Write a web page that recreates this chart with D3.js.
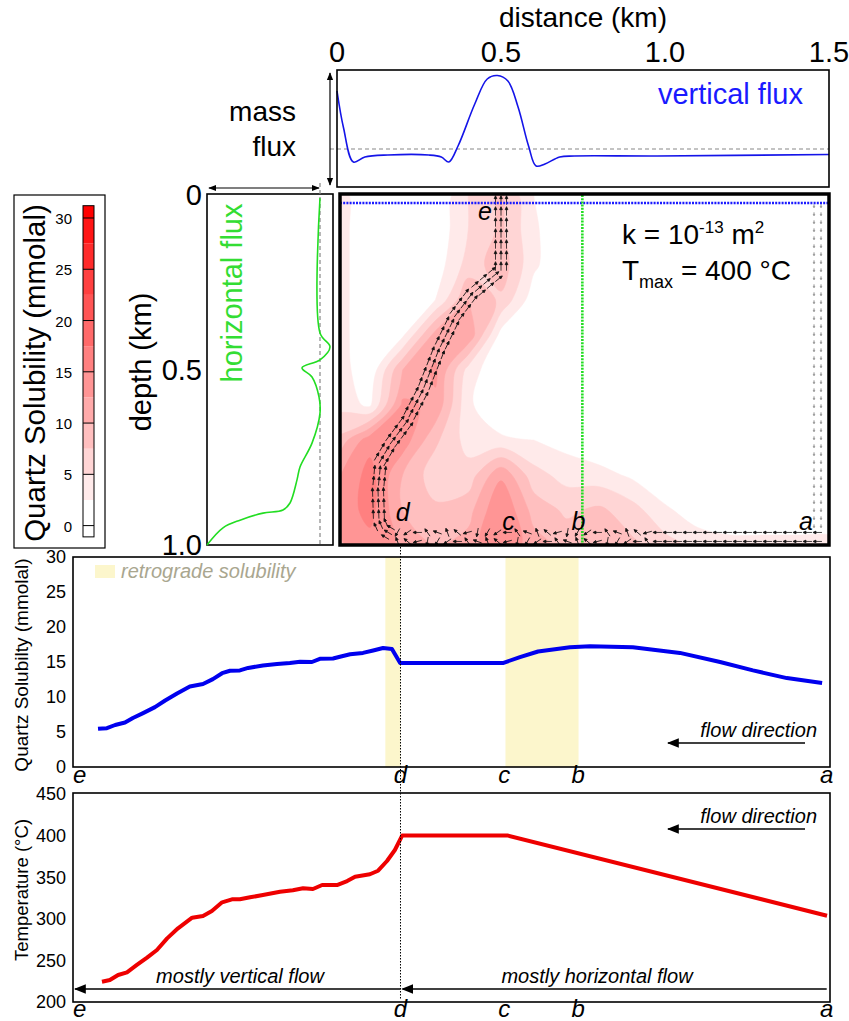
<!DOCTYPE html>
<html>
<head>
<meta charset="utf-8">
<script src="https://cdn.jsdelivr.net/npm/d3@7"></script>
<style>
  body { margin: 0; background: #fff; }
  svg { display: block; font-family: "Liberation Sans", Arial, sans-serif; }
</style>
</head>
<body>
<div id="chart"></div>
<script>
// ---------- data ----------
// vertical mass flux through the top boundary (arbitrary units, 0 = dashed line)
const vfDist = [0, 0.02, 0.05, 0.085, 0.155, 0.28, 0.318, 0.341, 0.369, 0.42, 0.458, 0.489, 0.521, 0.552, 0.584, 0.607, 0.634, 0.679, 0.723, 0.976, 1.5];
const vfFlux = [58, 21, -13, -8, -6, -6, -8, -13, 3, 45, 70, 73.5, 68, 42, 3, -17, -15, -8, -7, -7, -5.5];

// horizontal mass flux through the left boundary
const hfDepth = [0.009, 0.394, 0.434, 0.471, 0.494, 0.52, 0.577, 0.623, 0.709, 0.777, 0.814, 0.88, 0.9, 0.909, 0.929, 0.951, 1.0];
const hfFlux = [0, 0, 10, 0, -18, -8, -1, 0, -8, -20, -23, -30, -37, -57, -80, -97, -113];

// quartz solubility field (mmolal), rows = depth, columns = distance
const gridDist = [0, 0.1, 0.2, 0.3, 0.4, 0.5, 0.6, 0.7, 0.8, 0.9, 1.0, 1.1, 1.2, 1.3, 1.4, 1.5];
const gridDepth = [0, 0.1, 0.2, 0.3, 0.4, 0.5, 0.6, 0.7, 0.8, 0.9, 1.0];
const solGrid = [
  [4, 0, 0, 0, 5, 8, 2.5, 0, 0, 0, 0, 0, 0, 0, 0, 0],
  [4, 0, 0, 0.5, 5, 8, 3, 0, 0, 0, 0, 0, 0, 0, 0, 0],
  [4, 0, 0, 1, 6, 9, 3, 0, 0, 0, 0, 0, 0, 0, 0, 0],
  [4, 0, 0, 2.5, 10, 7, 1, 0, 0, 0, 0, 0, 0, 0, 0, 0],
  [4, 0, 2, 11, 12, 1.5, 0, 0, 0, 0, 0, 0, 0, 0, 0, 0],
  [4, 0.5, 10, 13, 4, 0, 0, 0, 0, 0, 0, 0, 0, 0, 0, 0],
  [4, 2, 13, 12, 3, 0, 0, 0, 0, 0, 0, 0, 0, 0, 0, 0],
  [8, 14, 14, 8, 4, 3, 2.5, 1.5, 0, 0, 0, 0, 0, 0, 0, 0],
  [12, 16, 10, 6, 6, 12, 6, 4, 3.5, 2, 0, 0, 0, 0, 0, 0],
  [13, 16, 10, 8, 9, 15, 9, 7, 8, 6, 3, 1, 0, 0, 0, 0],
  [12, 14, 12, 10, 11, 15, 11, 9, 10, 8, 6, 4, 3.5, 3.5, 3.5, 3.5]
];

// colour bar
const cbSteps = [-1.1, 0, 2.5, 5, 7.5, 10, 12.5, 15, 17.5, 20, 22.5, 25, 27.5, 30, 31.2];
const cbTicks = [0, 5, 10, 15, 20, 25, 30];

// flow paths (distance km, depth km): along the base a -> d, then up the channel d -> e
const basePath = [[1.48, 0.977], [0.9, 0.977], [0.5, 0.977], [0.17, 0.977]];
const channelPath = [[0.17, 0.972], [0.14, 0.955], [0.128, 0.93], [0.125, 0.843], [0.134, 0.757],
  [0.164, 0.709], [0.21, 0.651], [0.262, 0.557], [0.31, 0.443], [0.362, 0.343], [0.408, 0.286],
  [0.462, 0.243], [0.5, 0.214], [0.5, 0.0]];
const edgePath = [[1.465, 0.02], [1.465, 0.965]];

// labels of the section points in the flow field
const pointNames = ["e", "d", "c", "b", "a"];
const pointDist = [0.451, 0.2, 0.523, 0.736, 1.43];
const pointDepth = [0.071, 0.93, 0.957, 0.957, 0.957];

// profile along the flow path e - d - c - b - a
const profileTicks = [-0.78, 0.195, 0.51, 0.735, 1.49];
const retroRanges = [[0.149, 0.195], [0.514, 0.736]];
const solPos = [-0.724, -0.697, -0.672, -0.642, -0.618, -0.587, -0.551, -0.52, -0.484, -0.445, -0.405, -0.375, -0.347, -0.323, -0.293, -0.268, -0.223, -0.18, -0.141, -0.11, -0.074, -0.05, -0.01, 0.011, 0.042, 0.081, 0.112, 0.142, 0.169, 0.194, 0.285, 0.506, 0.558, 0.613, 0.71, 0.771, 0.901, 1.044, 1.166, 1.266, 1.369, 1.476];
const solVal = [5.45, 5.55, 6.0, 6.35, 7.0, 7.7, 8.55, 9.5, 10.5, 11.5, 11.85, 12.55, 13.4, 13.75, 13.8, 14.15, 14.5, 14.7, 14.85, 15.05, 15.0, 15.45, 15.5, 15.75, 16.1, 16.3, 16.65, 17.0, 16.85, 14.85, 14.85, 14.85, 15.7, 16.5, 17.1, 17.25, 17.1, 16.3, 15.0, 13.8, 12.7, 12.0];
const tempPos = [-0.712, -0.688, -0.663, -0.636, -0.606, -0.575, -0.545, -0.514, -0.481, -0.438, -0.405, -0.378, -0.347, -0.317, -0.293, -0.262, -0.223, -0.171, -0.132, -0.101, -0.071, -0.043, 0.002, 0.033, 0.057, 0.102, 0.127, 0.154, 0.178, 0.2, 0.522, 1.491];
const tempVal = [224.4, 226.4, 232.5, 235.7, 244.5, 253.3, 262.5, 276.5, 288.6, 301.3, 303.4, 309.4, 319.8, 323.4, 323.4, 325.8, 328.6, 332.6, 334.3, 336.7, 335.8, 340.6, 340.6, 345.4, 350.6, 353.5, 357.8, 369.5, 382.7, 400, 400, 303.7];
const solTicks = [0, 5, 10, 15, 20, 25, 30];
const tempTicks = [200, 250, 300, 350, 400, 450];

// ---------- drawing ----------
const W = 849, H = 1021;
const svg = d3.select("#chart").append("svg").attr("width", W).attr("height", H);

const defs = svg.append("defs");
function headMarker(id, size) {
  defs.append("marker").attr("id", id).attr("viewBox", "0 0 10 10").attr("refX", 9).attr("refY", 5)
    .attr("markerWidth", size).attr("markerHeight", size).attr("markerUnits", "userSpaceOnUse")
    .attr("orient", "auto-start-reverse")
    .append("path").attr("d", "M0,1L10,5L0,9Z").attr("fill", "#000");
}
headMarker("head-small", 8);
headMarker("head-big", 12);

const xDist = d3.scaleLinear().domain([0, 1.5]).range([337, 829]);
const yDepth = d3.scaleLinear().domain([0, 1]).range([195, 545]);
const solColor = v => d3.interpolateRgb("#ffffff", "#ff0000")(Math.max(0, Math.min(1, v / 30)));

// ---- top axis ----
svg.append("text").attr("x", 583).attr("y", 27).attr("text-anchor", "middle")
  .attr("font-size", 28).text("distance (km)");
svg.append("g").selectAll("text").data([0, 0.5, 1.0, 1.5]).enter().append("text")
  .attr("x", d => xDist(d)).attr("y", 62).attr("text-anchor", "middle").attr("font-size", 29)
  .text(d => d === 0 ? "0" : d3.format(".1f")(d));

// ---- vertical flux panel ----
const yFlux = d3.scaleLinear().domain([-38, 79]).range([187, 70]);
svg.append("line").attr("x1", 330).attr("x2", 829).attr("y1", yFlux(0)).attr("y2", yFlux(0))
  .attr("stroke", "#888").attr("stroke-width", 1.2).attr("stroke-dasharray", "4,3");
svg.append("path").datum(vfDist.map((d, i) => [d, vfFlux[i]]))
  .attr("fill", "none").attr("stroke", "#1414e8").attr("stroke-width", 1.6)
  .attr("d", d3.line().x(d => xDist(d[0])).y(d => yFlux(d[1])).curve(d3.curveCatmullRom));
svg.append("rect").attr("x", 337).attr("y", 70).attr("width", 492).attr("height", 117)
  .attr("fill", "none").attr("stroke", "#000").attr("stroke-width", 1.6);
svg.append("text").attr("x", 803).attr("y", 104).attr("text-anchor", "end").attr("font-size", 29)
  .attr("fill", "#1a1aff").text("vertical flux");
svg.append("text").attr("x", 296).attr("y", 121).attr("text-anchor", "end").attr("font-size", 28).text("mass");
svg.append("text").attr("x", 296).attr("y", 156).attr("text-anchor", "end").attr("font-size", 28).text("flux");
svg.append("line").attr("x1", 330).attr("x2", 330).attr("y1", 73).attr("y2", 185)
  .attr("stroke", "#000").attr("stroke-width", 1.2)
  .attr("marker-start", "url(#head-small)").attr("marker-end", "url(#head-small)");

// ---- colour bar legend ----
svg.append("rect").attr("x", 14).attr("y", 195).attr("width", 91).attr("height", 353)
  .attr("fill", "#fff").attr("stroke", "#000").attr("stroke-width", 1.2);
const cbY = d3.scaleLinear().domain([0, 30]).range([525.6, 218]);
const cbCells = cbSteps.slice(0, -1).map((v, i) => [v, cbSteps[i + 1]]);
svg.append("g").selectAll("rect").data(cbCells).enter().append("rect")
  .attr("x", 83).attr("width", 11)
  .attr("y", d => cbY(d[1])).attr("height", d => cbY(d[0]) - cbY(d[1]))
  .attr("fill", d => d[0] < 0 ? "#fff" : solColor(d[0]));
svg.append("g").selectAll("line").data(cbTicks).enter().append("line")
  .attr("x1", 83).attr("x2", 94).attr("y1", d => cbY(d)).attr("y2", d => cbY(d))
  .attr("stroke", "#000").attr("stroke-width", 1);
svg.append("rect").attr("x", 83).attr("width", 11).attr("y", cbY(31.2)).attr("height", cbY(-1.1) - cbY(31.2))
  .attr("fill", "none").attr("stroke", "#000").attr("stroke-width", 1);
svg.append("g").selectAll("text").data(cbTicks).enter().append("text")
  .attr("x", 72).attr("y", d => cbY(d) + 2).attr("text-anchor", "end").attr("dominant-baseline", "middle")
  .attr("font-size", 15).text(d => d);
svg.append("text").attr("transform", "translate(45,373) rotate(-90)").attr("text-anchor", "middle")
  .attr("font-size", 29.5).text("Quartz Solubility (mmolal)");

// ---- horizontal flux panel ----
const xHf = d3.scaleLinear().domain([-113, 13]).range([207, 333]);
svg.append("rect").attr("x", 207).attr("y", 194).attr("width", 126).attr("height", 351)
  .attr("fill", "none").attr("stroke", "#000").attr("stroke-width", 1.6);
svg.append("line").attr("x1", xHf(0)).attr("x2", xHf(0)).attr("y1", 183).attr("y2", 545)
  .attr("stroke", "#888").attr("stroke-width", 1.2).attr("stroke-dasharray", "4,3");
svg.append("path").datum(hfDepth.map((d, i) => [hfFlux[i], d]))
  .attr("fill", "none").attr("stroke", "#22dd22").attr("stroke-width", 1.6)
  .attr("d", d3.line().x(d => xHf(d[0])).y(d => yDepth(d[1])).curve(d3.curveCatmullRom));
svg.append("line").attr("x1", 209).attr("x2", xHf(0) - 1).attr("y1", 188).attr("y2", 188)
  .attr("stroke", "#000").attr("stroke-width", 1.2)
  .attr("marker-start", "url(#head-small)").attr("marker-end", "url(#head-small)");
svg.append("text").attr("transform", "translate(242,293) rotate(-90)").attr("text-anchor", "middle")
  .attr("font-size", 29).attr("fill", "#33dd33").text("horizontal flux");
svg.append("g").selectAll("text").data([0, 0.5, 1.0]).enter().append("text")
  .attr("x", 202).attr("y", d => yDepth(d)).attr("dy", "0.36em").attr("text-anchor", "end")
  .attr("font-size", 29).text(d => d === 0 ? "0" : d3.format(".1f")(d));
svg.append("text").attr("transform", "translate(151,362) rotate(-90)").attr("text-anchor", "middle")
  .attr("font-size", 29).text("depth (km)");

// ---- solubility field ----
defs.append("clipPath").attr("id", "field-clip").append("rect")
  .attr("x", 340).attr("y", 195).attr("width", 489).attr("height", 350);
const field = svg.append("g").attr("clip-path", "url(#field-clip)");
field.append("rect").attr("x", 340).attr("y", 195).attr("width", 489).attr("height", 350).attr("fill", "#fff");

const nx = gridDist.length, ny = gridDepth.length;
const dStep = gridDist[1] - gridDist[0], zStep = gridDepth[1] - gridDepth[0];
const contours = d3.contours().size([nx, ny]).thresholds(cbSteps.slice(2, -1))(solGrid.flat());
const ringLine = d3.line()
  .x(p => xDist(gridDist[0] + (p[0] - 0.5) * dStep))
  .y(p => yDepth(gridDepth[0] + (p[1] - 0.5) * zStep))
  .curve(d3.curveCatmullRomClosed);
field.append("g").selectAll("path").data(contours).enter().append("path")
  .attr("d", d => d.coordinates.map(poly => poly.map(ring => ringLine(ring.slice(0, -1))).join("")).join(""))
  .attr("fill", d => solColor(d.value)).attr("stroke", d => solColor(d.value)).attr("stroke-width", 0.5);

// arrows along a path, placed every `spacing` px at the given perpendicular offsets
function arrowsAlong(pathKm, spacing, offsets) {
  const pts = pathKm.map(p => [xDist(p[0]), yDepth(p[1])]);
  const out = [];
  let carry = spacing / 2;
  for (let i = 0; i < pts.length - 1; i++) {
    const [x0, y0] = pts[i], [x1, y1] = pts[i + 1];
    const len = Math.hypot(x1 - x0, y1 - y0);
    const ux = (x1 - x0) / len, uy = (y1 - y0) / len;
    let s = carry;
    while (s < len) {
      offsets.forEach(o => out.push({ x: x0 + ux * s - uy * o, y: y0 + uy * s + ux * o, a: Math.atan2(uy, ux) * 180 / Math.PI }));
      s += spacing;
    }
    carry = s - len;
  }
  return out;
}
function arrowShape(L, h) {
  return `M${-L / 2},0L${L / 2 - h * 0.5},0M${L / 2},0L${L / 2 - h},${-h * 0.45}L${L / 2 - h},${h * 0.45}Z`;
}
const wobble = [0, 40, -35, 70, -60, 20, -80, 55, -15];
const arrowLayer = field.append("g").attr("fill", "#111").attr("stroke", "#111").attr("stroke-width", 0.8);
arrowLayer.append("g").selectAll("path").data(arrowsAlong(basePath, 10, [-4.5, 4.5])).enter().append("path")
  .attr("d", arrowShape(9, 3))
  .attr("transform", (d, i) => {
    const km = xDist.invert(d.x);
    const chaotic = km > 0.14 && km < 0.95;
    return `translate(${d.x},${d.y}) rotate(${d.a + (chaotic ? wobble[i % wobble.length] : 0)})`;
  });
arrowLayer.append("g").selectAll("path").data(arrowsAlong(channelPath, 11, [-5.5, 0, 5.5])).enter().append("path")
  .attr("d", arrowShape(9, 3))
  .attr("transform", d => `translate(${d.x},${d.y}) rotate(${d.a})`);
field.append("g").selectAll("path").data(arrowsAlong(edgePath, 8, [-3.5, 3.5])).enter().append("path")
  .attr("d", arrowShape(4, 2))
  .attr("transform", d => `translate(${d.x},${d.y}) rotate(${d.a})`)
  .attr("fill", "#9a9a9a").attr("stroke", "#9a9a9a").attr("stroke-width", 0.7);

// top boundary (blue) and vertical section (green)
field.append("line").attr("x1", 340).attr("x2", 829).attr("y1", yDepth(0.023)).attr("y2", yDepth(0.023))
  .attr("stroke", "#1a1aff").attr("stroke-width", 2.6).attr("stroke-dasharray", "2,1.2");
field.append("line").attr("x1", xDist(0.748)).attr("x2", xDist(0.748)).attr("y1", 195).attr("y2", 545)
  .attr("stroke", "#22dd22").attr("stroke-width", 2.6).attr("stroke-dasharray", "2,1.2");

svg.append("g").selectAll("text").data(pointNames).enter().append("text")
  .attr("x", (d, i) => xDist(pointDist[i])).attr("y", (d, i) => yDepth(pointDepth[i]))
  .attr("text-anchor", "middle").attr("font-size", 25).attr("font-style", "italic").text(d => d);

const kText = svg.append("text").attr("x", 622).attr("y", 244).attr("font-size", 28);
kText.append("tspan").text("k = 10");
kText.append("tspan").attr("font-size", 17).attr("dy", -11).text("-13");
kText.append("tspan").attr("dy", 11).text(" m");
kText.append("tspan").attr("font-size", 17).attr("dy", -11).text("2");
const tText = svg.append("text").attr("x", 622).attr("y", 280).attr("font-size", 28);
tText.append("tspan").text("T");
tText.append("tspan").attr("font-size", 18).attr("dy", 8).text("max");
tText.append("tspan").attr("dy", -8).text(" = 400 °C");

svg.append("rect").attr("x", 340).attr("y", 194).attr("width", 489).attr("height", 351)
  .attr("fill", "none").attr("stroke", "#000").attr("stroke-width", 3.5);

// ---- profile charts ----
const xProf = d3.scaleLinear().domain([-0.8, 1.5]).range([73, 830]);

function profileFrame(bottom, yScale, ticks, title, titleY, titleSize) {
  const g = svg.append("g");
  g.append("g").selectAll("text").data(ticks).enter().append("text")
    .attr("x", 66).attr("y", d => yScale(d)).attr("dy", "0.36em").attr("text-anchor", "end")
    .attr("font-size", 18).text(d => d);
  g.append("text").attr("transform", `translate(28,${titleY}) rotate(-90)`).attr("text-anchor", "middle")
    .attr("font-size", titleSize).text(title);
  g.append("g").selectAll("text").data(pointNames).enter().append("text")
    .attr("x", (d, i) => xProf(profileTicks[i])).attr("y", bottom + 16)
    .attr("text-anchor", "middle").attr("font-size", 24).attr("font-style", "italic").text(d => d);
  return g;
}
function flowDirection(y) {
  svg.append("text").attr("x", 817).attr("y", y).attr("text-anchor", "end").attr("font-size", 20)
    .attr("font-style", "italic").text("flow direction");
  svg.append("line").attr("x1", 805).attr("x2", 668).attr("y1", y + 6).attr("y2", y + 6)
    .attr("stroke", "#000").attr("stroke-width", 1.3).attr("marker-end", "url(#head-big)");
}

// solubility
const ySol = d3.scaleLinear().domain([0, 30]).range([767, 557]);
svg.append("g").selectAll("rect").data(retroRanges).enter().append("rect")
  .attr("x", d => xProf(d[0])).attr("width", d => xProf(d[1]) - xProf(d[0]))
  .attr("y", 557).attr("height", 210).attr("fill", "#fcf6cc");
svg.append("rect").attr("x", 95).attr("y", 565).attr("width", 20).attr("height", 13).attr("fill", "#fcf6cc");
svg.append("text").attr("x", 121).attr("y", 578).attr("font-size", 20).attr("font-style", "italic")
  .attr("fill", "#a9a68f").text("retrograde solubility");
profileFrame(767, ySol, solTicks, "Quartz Solubilty (mmolal)", 665, 19);
svg.append("path").datum(solPos.map((d, i) => [d, solVal[i]]))
  .attr("fill", "none").attr("stroke", "#0000ee").attr("stroke-width", 4).attr("stroke-linejoin", "round")
  .attr("d", d3.line().x(d => xProf(d[0])).y(d => ySol(d[1])));
svg.append("rect").attr("x", 73).attr("y", 557).attr("width", 757).attr("height", 210)
  .attr("fill", "none").attr("stroke", "#000").attr("stroke-width", 1.6);
flowDirection(737);

// temperature
const yTemp = d3.scaleLinear().domain([200, 450]).range([1002, 794]);
profileFrame(1001, yTemp, tempTicks, "Temperature (°C)", 890, 18.5);
svg.append("path").datum(tempPos.map((d, i) => [d, tempVal[i]]))
  .attr("fill", "none").attr("stroke", "#ee0000").attr("stroke-width", 4).attr("stroke-linejoin", "round")
  .attr("d", d3.line().x(d => xProf(d[0])).y(d => yTemp(d[1])));
svg.append("rect").attr("x", 73).attr("y", 793).attr("width", 757).attr("height", 209)
  .attr("fill", "none").attr("stroke", "#000").attr("stroke-width", 1.6);
flowDirection(823);

svg.append("line").attr("x1", xProf(1.49)).attr("x2", xProf(profileTicks[1]) + 2).attr("y1", 989).attr("y2", 989)
  .attr("stroke", "#000").attr("stroke-width", 1.3).attr("marker-end", "url(#head-big)");
svg.append("line").attr("x1", xProf(profileTicks[1])).attr("x2", 75).attr("y1", 989).attr("y2", 989)
  .attr("stroke", "#000").attr("stroke-width", 1.3).attr("marker-end", "url(#head-big)");
svg.append("text").attr("x", 240).attr("y", 983).attr("text-anchor", "middle").attr("font-size", 20)
  .attr("font-style", "italic").text("mostly vertical flow");
svg.append("text").attr("x", 597).attr("y", 983).attr("text-anchor", "middle").attr("font-size", 20)
  .attr("font-style", "italic").text("mostly horizontal flow");

// dotted marker of point d through both profiles
svg.append("line").attr("x1", xProf(profileTicks[1])).attr("x2", xProf(profileTicks[1]))
  .attr("y1", 547).attr("y2", 1000)
  .attr("stroke", "#000").attr("stroke-width", 1).attr("stroke-dasharray", "1.5,1.5");
</script>
</body>
</html>
